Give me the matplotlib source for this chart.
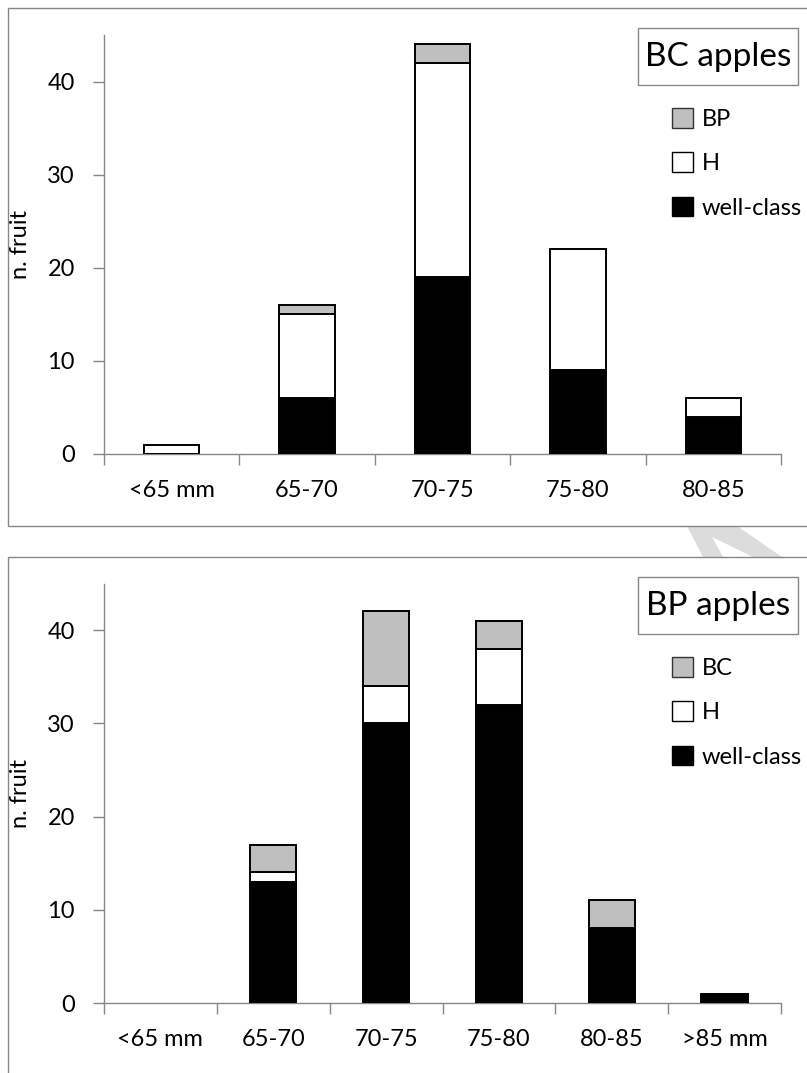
import matplotlib
matplotlib.use('Agg')
import matplotlib.pyplot as plt
from matplotlib.patches import Rectangle, Polygon, Patch
import numpy as np

plt.rcParams['font.family'] = ['Lato', 'DejaVu Sans']

# data: top chart (BC apples)
bc_sizes = ['<65 mm', '65-70', '70-75', '75-80', '80-85']
bc_well = [0, 6, 19, 9, 4]
bc_h = [1, 9, 23, 13, 2]
bc_bp = [0, 1, 2, 0, 0]

# data: bottom chart (BP apples)
bp_sizes = ['<65 mm', '65-70', '70-75', '75-80', '80-85', '>85 mm']
bp_well = [0, 13, 30, 32, 8, 1]
bp_h = [0, 1, 4, 6, 0, 0]
bp_bc = [0, 3, 8, 3, 3, 0]

W, H = 807, 1073
GRAY_AX = '#868686'
GRAY_BAR = '#bfbfbf'
FS = 17


def fx(px):
    return px / W


def fy(py):
    return 1 - py / H


fig = plt.figure(figsize=(W / 100, H / 100), dpi=100)

# watermark fragment between the two frames
wm = [(687, 526), (737, 526), (782, 557), (753, 557), (712, 537), (723, 557), (703, 557)]
fig.add_artist(Polygon([(fx(a), fy(b)) for a, b in wm], closed=True,
                       transform=fig.transFigure, facecolor='#dcdcdc',
                       edgecolor='none', zorder=-3))

# chart frames
for top, bottom in [(8, 526), (557, 1100)]:
    fig.add_artist(Rectangle((fx(8), fy(bottom)), fx(830) - fx(8), fy(top) - fy(bottom),
                             transform=fig.transFigure, facecolor='white',
                             edgecolor=GRAY_AX, linewidth=1.0, zorder=-2))


def stacked(ax, sizes, well, h, other, other_name, title, leg_top):
    n = len(sizes)
    x = np.arange(n) + 0.5
    bottom = np.zeros(n)
    series = [(well, 'black', 'well-class'), (h, 'white', 'H'), (other, GRAY_BAR, other_name)]
    for vals, col, lab in series:
        vals = np.array(vals, dtype=float)
        ec = ['black' if v > 0 else 'none' for v in vals]
        ax.bar(x, vals, width=0.41, bottom=bottom, color=col, edgecolor=ec,
               linewidth=1.4, zorder=3)
        bottom += vals

    ax.set_xlim(0, n)
    ax.set_ylim(0, 45)
    ax.set_yticks([0, 10, 20, 30, 40])
    ax.set_xticks(np.arange(n + 1))
    ax.set_xticklabels([])
    ax.set_xticks(x, minor=True)
    ax.set_xticklabels(sizes, minor=True)
    ax.tick_params(axis='x', which='major', length=8, width=1, color=GRAY_AX, direction='out')
    ax.tick_params(axis='x', which='minor', length=0, pad=19, labelsize=FS)
    ax.tick_params(axis='y', length=8, width=1, color=GRAY_AX, direction='out', pad=13,
                   labelsize=FS)
    for s in ['top', 'right']:
        ax.spines[s].set_visible(False)
    for s in ['left', 'bottom']:
        ax.spines[s].set_color(GRAY_AX)
        ax.spines[s].set_linewidth(1.0)
    ax.set_facecolor('none')
    ax.set_ylabel('n. fruit', fontsize=FS, labelpad=12)

    # title box
    fig.add_artist(Rectangle((fx(638), fy(leg_top + 57)), fx(798) - fx(638), 57 / H,
                             transform=fig.transFigure, facecolor='white',
                             edgecolor=GRAY_AX, linewidth=1.0))
    fig.text(fx(718), fy(leg_top + 29), title, ha='center', va='center', fontsize=24)

    handles = [Patch(facecolor=GRAY_BAR, edgecolor='#333333', label=other_name),
               Patch(facecolor='white', edgecolor='black', label='H'),
               Patch(facecolor='black', edgecolor='black', label='well-class')]
    fig.legend(handles=handles, loc='upper left', bbox_to_anchor=(fx(672), fy(leg_top + 80)),
               frameon=False, fontsize=FS, handlelength=0.9, handleheight=0.9,
               handletextpad=0.35, labelspacing=0.95, borderpad=0, borderaxespad=0)


ax1 = fig.add_axes([fx(104), fy(454), fx(781) - fx(104), (454 - 35) / H])
stacked(ax1, bc_sizes, bc_well, bc_h, bc_bp, 'BP', 'BC apples', 28)

ax2 = fig.add_axes([fx(104), fy(1003), fx(781) - fx(104), (1003 - 583.5) / H])
stacked(ax2, bp_sizes, bp_well, bp_h, bp_bc, 'BC', 'BP apples', 577)

fig.savefig('out.png', dpi=100)
